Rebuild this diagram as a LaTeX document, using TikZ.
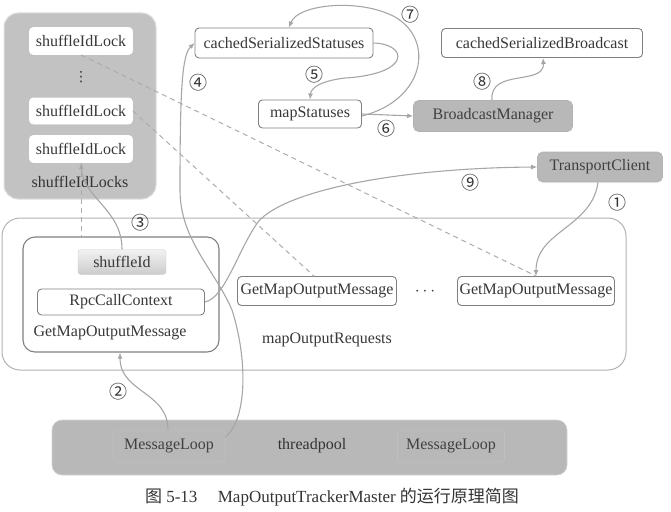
\documentclass[tikz,border=0pt]{standalone}
\usepackage{fontspec}
\setmainfont{Liberation Serif}
\newfontfamily\cjk{Noto Sans CJK SC}
\newfontfamily\symf{DejaVu Sans}
\usetikzlibrary{arrows.meta}
\definecolor{txt}{gray}{0.22}
\definecolor{edge}{gray}{0.5}
\definecolor{boxfill}{gray}{0.72}
\begin{document}
\begin{tikzpicture}[x=1pt,y=-1pt,
  every node/.style={text=txt},
  lbl/.style={font=\fontsize{16}{18}\selectfont},
  wbox/.style={draw=edge, line width=0.9pt, rounded corners=4pt, fill=white, font=\fontsize{16}{18}\selectfont, inner sep=0pt},
  gbox/.style={draw=gray!60, line width=0.6pt, rounded corners=5pt, fill=boxfill, font=\fontsize{16}{18}\selectfont, text=gray!50!black, inner sep=0pt},
  big/.style={draw=gray!60, line width=1pt, inner sep=0pt},
  num/.style={font=\cjk\fontsize{18}{20}\selectfont, text=black!80},
  conn/.style={draw=gray!70, line width=1.1pt, -{Latex[length=6pt,width=5pt]}},
  dashline/.style={draw=gray!65, line width=1pt, dash pattern=on 5pt off 4pt}
]
\useasboundingbox (0,0) rectangle (671,511);

% shuffleIdLocks container
\node[big, draw=gray!25, fill=boxfill!85, rounded corners=14pt, minimum width=152, minimum height=186] (locks) at (80,106) {};
\node[wbox, draw=white, minimum width=103, minimum height=27] (lock1) at (81,41) {shuffleIdLock};
\node[font=\symf\fontsize{14}{16}\selectfont, text=gray!40!black] (vd) at (81,77) {⋮};
\node[wbox, draw=white, minimum width=103, minimum height=26] (lock2) at (81,111) {shuffleIdLock};
\node[wbox, draw=white, minimum width=103, minimum height=27] (lock3) at (81,149) {shuffleIdLock};
\node[lbl, text=gray!40!black] (lockslbl) at (80,182) {shuffleIdLocks};

% top area
\node[wbox, minimum width=178, minimum height=30] (css) at (284,43) {cachedSerializedStatuses};
\node[wbox, minimum width=103, minimum height=28] (ms) at (310,114) {mapStatuses};
\node[wbox, minimum width=201, minimum height=29] (csb) at (542,43) {cachedSerializedBroadcast};
\node[gbox, minimum width=159, minimum height=31] (bm) at (493,116) {BroadcastManager};
\node[gbox, minimum width=125, minimum height=30] (tc) at (600,167) {TransportClient};

% mapOutputRequests
\node[big, rounded corners=18pt, minimum width=624, minimum height=152] (req) at (314,294) {};
\node[big, draw=edge, line width=1.1pt, rounded corners=12pt, minimum width=196, minimum height=115] (inner) at (121,294.5) {};
\node[draw=gray!40, rounded corners=3pt, top color=gray!10, bottom color=gray!40, minimum width=88, minimum height=25, inner sep=0pt, font=\fontsize{16}{18}\selectfont] (sid) at (122,262) {shuffleId};
\node[wbox, minimum width=167, minimum height=26] (rpc) at (121,302) {RpcCallContext};
\node[lbl] (innerlbl) at (110,333) {GetMapOutputMessage};
\node[wbox, minimum width=159, minimum height=29] (gm1) at (317,291) {GetMapOutputMessage};
\node[lbl] (cd) at (425,292) {$\cdots$};
\node[wbox, minimum width=157, minimum height=29] (gm2) at (536,291) {GetMapOutputMessage};
\node[lbl] (reqlbl) at (327,340) {mapOutputRequests};

% threadpool
\node[gbox, draw=gray!35, rounded corners=10pt, minimum width=515, minimum height=55] (pool) at (309.5,447.5) {};
\node[gbox, draw=gray!50, rounded corners=3pt, minimum width=112, minimum height=32] (ml1) at (169,446) {MessageLoop};
\node[lbl, text=gray!40!black] (poollbl) at (312,446) {threadpool};
\node[gbox, draw=gray!50, rounded corners=3pt, minimum width=107, minimum height=32] (ml2) at (451,446) {MessageLoop};

% caption
\node[font=\fontsize{17}{19}\selectfont, text=black!80] (cap) at (332,497) {{\cjk 图} 5-13\hspace{1.2em}MapOutputTrackerMaster {\cjk 的运行原理简图}};

% dashed links
\draw[dashline] (lock3.south) -- (inner.north -| lock3.south);
\draw[dashline] (lock1.south) -- (gm2.north);
\draw[dashline] (lock2.east) -- ([xshift=-3pt]gm1.north);

% connectors
% 1
\draw[conn] ([xshift=-2pt]tc.south) .. controls +(-6,45) and +(0,-45) .. (gm2.north);
\node[num] at (617,203) {①};
% 2
\draw[conn] ([xshift=-1pt]ml1.north) .. controls +(0,-38) and +(0,40) .. ([xshift=-1pt]inner.south);
\node[num] at (118,392) {②};
% 3
\draw[conn] (sid.north) .. controls +(0,-40) and +(2,35) .. (lock3.south);
\node[num] at (140,223) {③};
% 4
\coordinate (p4a) at (232,310);
\coordinate (p4b) at (180,190);
\draw[conn] ([yshift=9pt]ml1.east) .. controls (247,420) and (248,360) .. (p4a)
  .. controls (215,270) and (180,240) .. (p4b)
  .. controls (180,90) and (182,55) .. (css.west);
\node[num] at (198,83) {④};
% 5
\coordinate (p5) at (345,78);
\draw[conn] (css.east) .. controls (408,44) and (412,74) .. (p5)
  .. controls (320,81) and (311,88) .. (ms.north);
\node[num] at (314,75) {⑤};
% 6
\draw[conn] (ms.east) -- (bm.west);
\node[num] at (386,129) {⑥};
% 7
\coordinate (p7) at (395,17);
\draw[conn] ([yshift=-2pt]ms.east) .. controls (425,100) and (435,40) .. (p7)
  .. controls (360,-2) and (298,4) .. ([xshift=5pt]css.north);
\node[num] at (410,15) {⑦};
% 8
\draw[conn] ([xshift=-1pt]bm.north) .. controls +(-3,-32) and +(2,28) .. ([xshift=1pt]csb.south);
\node[num] at (482,82) {⑧};
% 9
\coordinate (p9) at (258,222);
\draw[conn] (rpc.east) .. controls (225,298) and (238,250) .. (p9)
  .. controls (285,190) and (400,168) .. (tc.west);
\node[num] at (470,183) {⑨};
\end{tikzpicture}
\end{document}
